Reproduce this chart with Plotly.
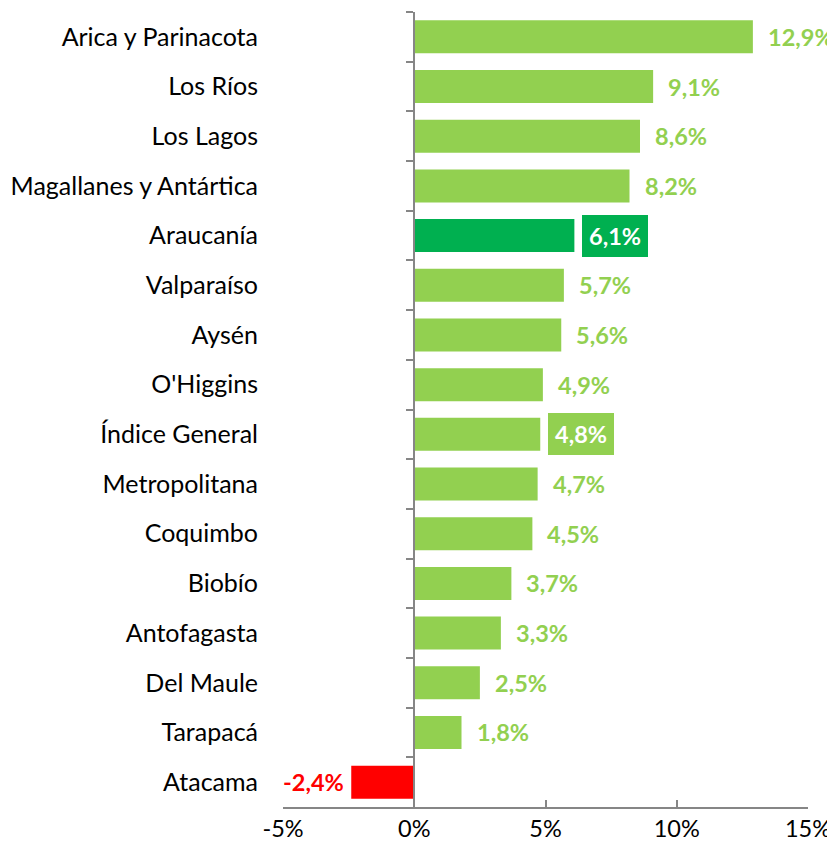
import plotly.graph_objects as go

regions = ["Arica y Parinacota", "Los Ríos", "Los Lagos", "Magallanes y Antártica",
           "Araucanía", "Valparaíso", "Aysén", "O'Higgins", "Índice General",
           "Metropolitana", "Coquimbo", "Biobío", "Antofagasta", "Del Maule",
           "Tarapacá", "Atacama"]
values = [12.9, 9.1, 8.6, 8.2, 6.1, 5.7, 5.6, 4.9, 4.8, 4.7, 4.5, 3.7, 3.3, 2.5, 1.8, -2.4]
tick_vals = [-5, 0, 5, 10, 15]
tick_text = ["-5%", "0%", "5%", "10%", "15%"]

LIGHT = "#92D050"
DARK = "#00B050"
RED = "#FF0000"

bar_colors = []
for r, v in zip(regions, values):
    if r == "Araucanía":
        bar_colors.append(DARK)
    elif v < 0:
        bar_colors.append(RED)
    else:
        bar_colors.append(LIGHT)

n = len(regions)
idx = list(range(n))

fig = go.Figure()
fig.add_trace(go.Bar(x=values, y=regions, orientation="h", marker=dict(color=bar_colors, line=dict(width=0)),
                     width=0.665, hoverinfo="skip", showlegend=False))
# invisible trace for the zero-axis line with boundary ticks
fig.add_trace(go.Scatter(x=[0] * n, y=idx, yaxis="y2", mode="markers",
                         marker=dict(opacity=0), hoverinfo="skip", showlegend=False))

FONT = "Lato, Carlito, Calibri, sans-serif"
FS = 25
FN = 23.5
annotations = []
for r, v in zip(regions, values):
    lbl = f"{v:.1f}".replace(".", ",") + "%"
    if r == "Araucanía":
        fc, bg = "white", DARK
    elif r == "Índice General":
        fc, bg = "white", LIGHT
    elif v < 0:
        fc, bg = RED, None
    else:
        fc, bg = LIGHT, None
    ann = dict(x=v, y=r, xref="x", yref="y", text=f"<b>{lbl}</b>", showarrow=False,
               font=dict(family=FONT, size=FN, color=fc), borderwidth=0)
    if bg:
        ann.update(bgcolor=bg, borderpad=7, xanchor="left", xshift=8)
    elif v >= 0:
        ann.update(borderpad=0, xanchor="left", xshift=15)
    else:
        ann.update(borderpad=0, xanchor="right", xshift=-7)
    annotations.append(ann)

fig.update_layout(
    width=827, height=847,
    margin=dict(l=275, r=27, t=4, b=48, autoexpand=False),
    paper_bgcolor="white", plot_bgcolor="white",
    font=dict(family=FONT, size=FS, color="#000000"),
    annotations=annotations,
    bargap=0.335,
    xaxis=dict(range=[-5, 15], tickvals=tick_vals, ticktext=tick_text, showgrid=False,
               zeroline=False, showline=True, linecolor="#868686", linewidth=2,
               ticks="inside", ticklen=7, tickwidth=2, tickcolor="#868686", automargin=False,
               tickfont=dict(family=FONT, size=FN, color="#000000"), fixedrange=True),
    yaxis=dict(categoryorder="array", categoryarray=regions, autorange="reversed",
               showgrid=False, zeroline=False, showline=False, ticks="", automargin=False,
               ticklabelstandoff=24,
               tickfont=dict(family=FONT, size=FS, color="#000000")),
    yaxis2=dict(overlaying="y", anchor="free", position=0.25, side="left", type="linear",
                range=[n - 0.5, -0.5], tickvals=[i - 0.5 for i in range(n)], automargin=False,
                showgrid=False, zeroline=False, showline=True, linecolor="#868686", linewidth=2,
                ticks="outside", ticklen=7, tickwidth=2, tickcolor="#868686",
                showticklabels=False),
)

fig.write_html("out.html")
